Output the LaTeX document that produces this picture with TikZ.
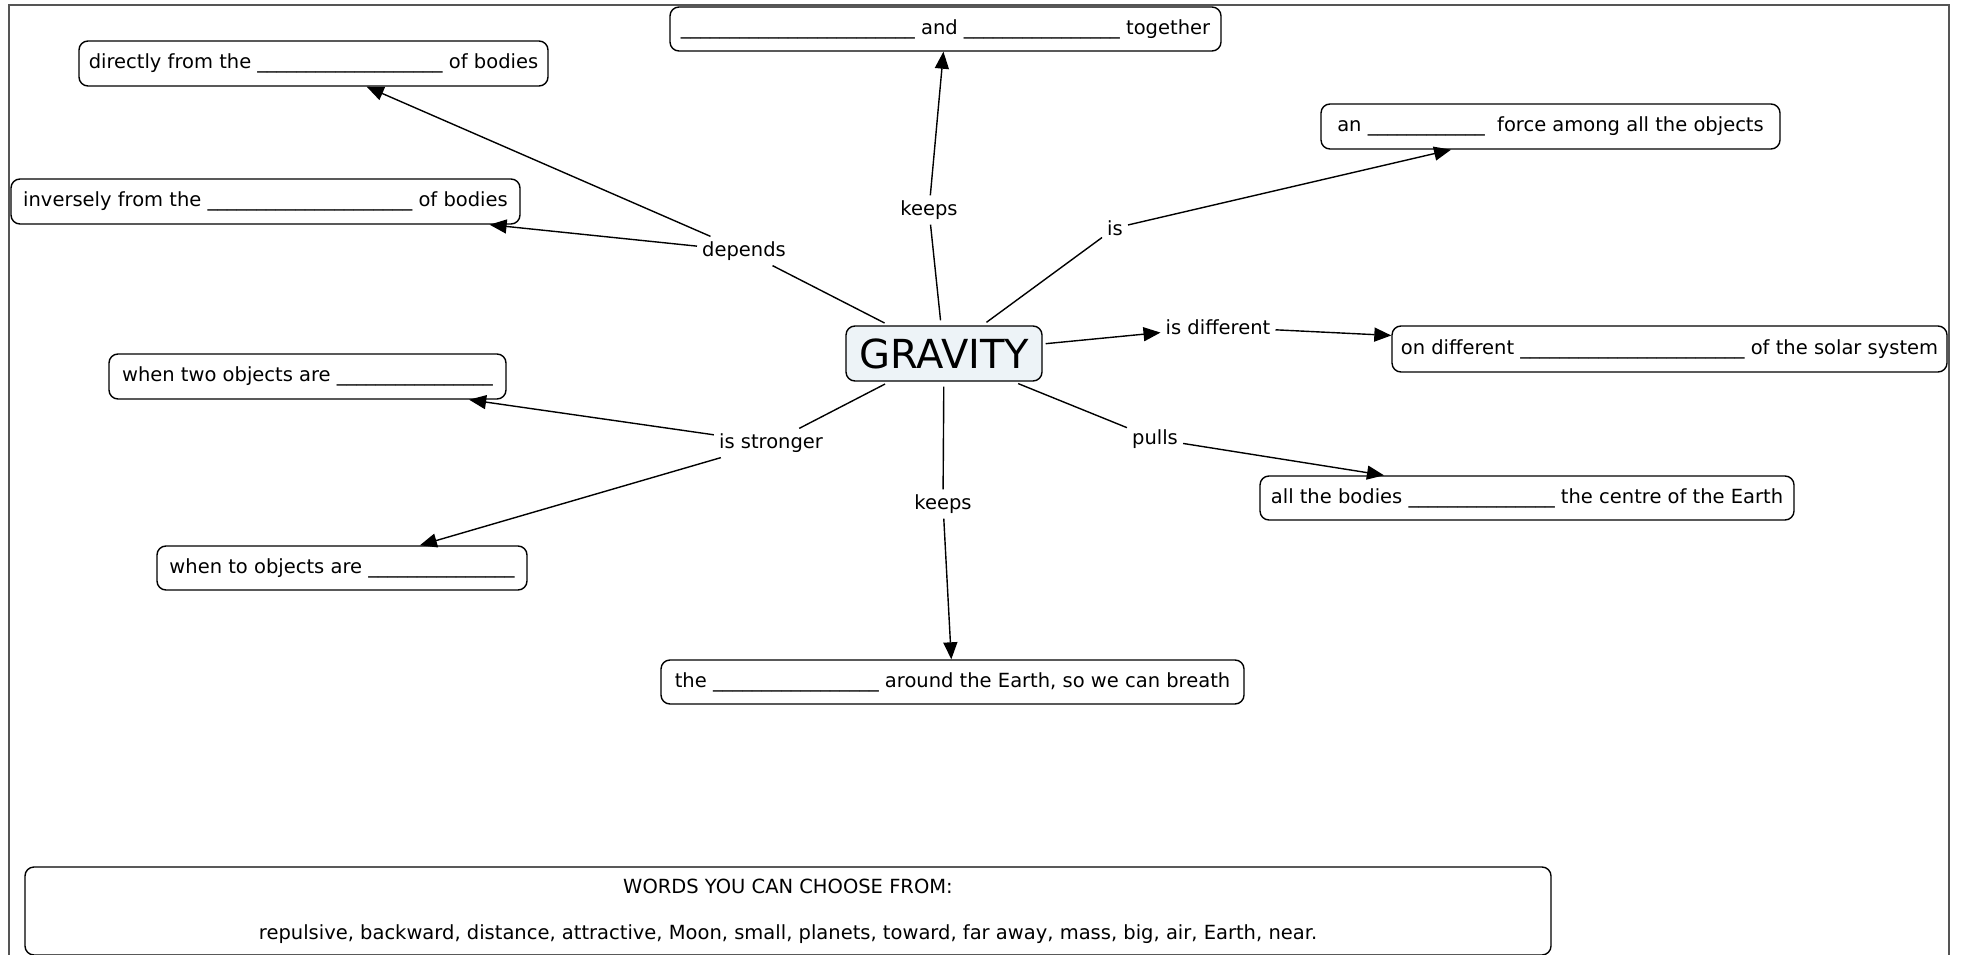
\documentclass[tikz,border=0pt]{standalone}
\usepackage{fontspec}
\setmainfont{DejaVu Sans}
\usetikzlibrary{arrows.meta}
\newcommand{\blank}[1]{\foreach \i in {1,...,#1}{\_}}
\definecolor{gravfill}{HTML}{EDF3F7}
\definecolor{framecol}{HTML}{555555}
\tikzset{
  concept/.style={draw=black, line width=1.4pt, rounded corners=9pt, fill=white,
    inner sep=0pt, align=center, font=\fontsize{19.5}{23}\selectfont},
  phrase/.style={inner sep=5pt, font=\fontsize{19.5}{23}\selectfont},
  link/.style={draw=black, line width=1.4pt},
  arr/.style={link, -{Triangle[length=17pt,width=14pt]}},
}
\begin{document}
\begin{tikzpicture}[x=1pt,y=-1pt]
\useasboundingbox (0,0) rectangle (1961,955);
\fill[white] (0,0) rectangle (1961,955);
\draw[framecol, line width=1.3pt] (9,960) -- (9,5) -- (1949,5) -- (1949,960);

% concepts
\node[concept, minimum width=469pt, minimum height=45pt] (dir) at (313.5,63.5)
  {directly from the \blank{19} of bodies};
\node[concept, minimum width=509pt, minimum height=45pt] (inv) at (265.5,201.5)
  {inversely from the \blank{21} of bodies};
\node[concept, minimum width=551pt, minimum height=44pt] (tog) at (945.5,29)
  {\blank{24} and \blank{16} together};
\node[concept, minimum width=459pt, minimum height=45pt] (frc) at (1550.5,126.5)
  {an \blank{12}\ \ force among all the objects};
\node[concept, minimum width=196pt, minimum height=55pt, fill=gravfill,
  font=\fontsize{40}{44}\selectfont] (grav) at (944,353.5) {GRAVITY};
\node[concept, minimum width=555pt, minimum height=46pt] (sol) at (1669.5,349)
  {on different \blank{23} of the solar system};
\node[concept, minimum width=397pt, minimum height=45pt] (two) at (307.5,376.5)
  {when two objects are \blank{16}};
\node[concept, minimum width=534pt, minimum height=44pt] (bod) at (1527,498)
  {all the bodies \blank{15} the centre of the Earth};
\node[concept, minimum width=370pt, minimum height=44pt] (tob) at (342,568)
  {when to objects are \blank{15}};
\node[concept, minimum width=583pt, minimum height=44pt] (air) at (952.5,682)
  {the \blank{17} around the Earth, so we can breath};
\node[concept, minimum width=1526pt, minimum height=88pt] (words) at (788,911)
  {WORDS YOU CAN CHOOSE FROM:\\[23pt]repulsive, backward, distance, attractive, Moon, small, planets, toward, far away, mass, big, air, Earth, near.};

% linking phrases
\node[phrase] (dep) at (744,251) {depends};
\node[phrase] (kt) at (929,210) {keeps};
\node[phrase] (is) at (1115,228) {is};
\node[phrase] (isd) at (1218,327) {is different};
\node[phrase] (iss) at (771,443) {is stronger};
\node[phrase] (pul) at (1155,439) {pulls};
\node[phrase] (kb) at (943,504) {keeps};

% connectors
\draw[link, shorten <=5pt] (grav) -- (dep);
\draw[arr] (dep) -- (dir);
\draw[arr] (dep) -- (inv);
\draw[link, shorten <=5pt] (grav) -- (kt);
\draw[arr] (kt) -- (tog);
\draw[link, shorten <=5pt] (grav) -- (is);
\draw[arr] (is) -- (frc);
\draw[arr, shorten <=3pt] (grav) -- (isd);
\draw[arr] (isd) -- (sol);
\draw[link, shorten <=5pt] (grav) -- (iss);
\draw[arr] (iss) -- (two);
\draw[arr] (iss) -- (tob);
\draw[link, shorten <=5pt] (grav) -- (pul);
\draw[arr] (pul) -- (bod);
\draw[link, shorten <=5pt] (grav) -- (kb);
\draw[arr] (kb) -- (air);
\end{tikzpicture}
\end{document}
